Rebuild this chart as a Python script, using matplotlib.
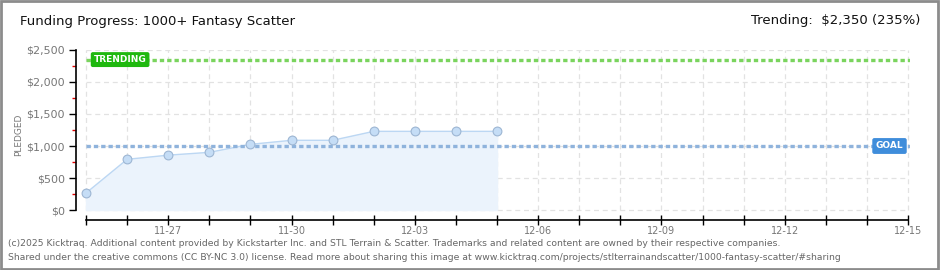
"""
Kicktraq-style funding progress chart: pledged per day vs goal and trend.
"""

import matplotlib
matplotlib.use("Agg")
import matplotlib.pyplot as plt
import pandas as pd
from matplotlib.patches import Rectangle

# ── Data ────────────────────────────────────────────────────
dates = ["11-25", "11-26", "11-27", "11-28", "11-29", "11-30",
         "12-01", "12-02", "12-03", "12-04", "12-05"]
pledged = [265, 792, 857, 901, 1026, 1089, 1089, 1229, 1229, 1229, 1229]
goal = 1000
trending = 2350
axis_days = pd.date_range("2025-11-25", "2025-12-15", freq="D").strftime("%m-%d").tolist()
y_ticks = [0, 500, 1000, 1500, 2000, 2500]

W, H = 940, 270
fig = plt.figure(figsize=(W / 100, H / 100), dpi=100)
fig.patch.set_facecolor("white")

# figure border
fig.add_artist(Rectangle((0.001, 0.002), 0.997, 0.996, transform=fig.transFigure,
                         fill=False, edgecolor="#8c8c8c", lw=2))

# axes: left spine at px 76, data starts px 86, ends px 910; y 0 at px 210, 2500 at px 50,
# x-axis line at px 220
px_per_day = (908 - 86) / 20
x0 = -(86 - 76) / px_per_day
x1 = 20 + (910 - 908) / px_per_day
px_per_dollar = (210 - 50) / 2500
y0 = -(220 - 210) / px_per_dollar
ax = fig.add_axes([76 / W, (H - 220) / H, (910 - 76) / W, (220 - 50) / H])
ax.set_xlim(x0, x1)
ax.set_ylim(y0, 2500)
ax.set_facecolor("white")

xs = list(range(len(dates)))
n_days = len(axis_days) - 1

# grid
ax.hlines(y_ticks, 0, n_days, colors="#e2e2e2", linestyles=(0, (4, 3)), lw=0.9, zorder=0)
ax.vlines(range(n_days + 1), 0, 2500, colors="#e2e2e2", linestyles=(0, (4, 3)), lw=0.9, zorder=0)

# series
ax.fill_between(xs, 0, pledged, color="#ebf3fc", zorder=1)
ax.plot(xs, pledged, color="#bcd7f3", lw=1, zorder=2)
ax.scatter(xs, pledged, s=40, color="#c5ddf6", edgecolors="#9db6d3", linewidths=0.8, zorder=4)

# goal and trending lines
ax.hlines(goal, 0, x1, colors="#8fb3dc", linestyles=(0, (1.3, 0.9)), lw=2.4, zorder=3)
ax.hlines(trending, 0, x1, colors="#7ad45e", linestyles=(0, (1.3, 0.9)), lw=2.4, zorder=3)

ax.text(0.83, trending, "TRENDING", color="white", fontsize=6.5, fontweight="bold",
        ha="center", va="center", zorder=6,
        bbox=dict(boxstyle="round,pad=0.25,rounding_size=0.15", fc="#1fb80f", ec="#1fb80f"))
ax.text(19.55, goal, "GOAL", color="white", fontsize=6.5, fontweight="bold",
        ha="center", va="center", zorder=6,
        bbox=dict(boxstyle="round,pad=0.3,rounding_size=0.15", fc="#3f8ddb", ec="#3f8ddb"))

# spines
for s in ["top", "right"]:
    ax.spines[s].set_visible(False)
ax.spines["left"].set_bounds(0, 2500)
ax.spines["bottom"].set_bounds(0, n_days)
ax.spines["left"].set_linewidth(1.2)
ax.spines["bottom"].set_linewidth(1.2)

# y ticks
ax.set_yticks(y_ticks)
ax.set_yticklabels([f"${v:,}" for v in y_ticks], color="#777777", fontsize=8)
ax.set_yticks([250, 750, 1250, 1750, 2250], minor=True)
ax.tick_params(axis="y", which="major", length=5, width=1, color="black", pad=3)
ax.tick_params(axis="y", which="minor", length=3, width=1, color="#e00000")
ax.set_ylabel("PLEDGED", color="#777777", fontsize=6.5, labelpad=2)

# x ticks
ax.set_xticks(range(n_days + 1))
ax.set_xticklabels([d if (i % 3 == 2) else "" for i, d in enumerate(axis_days)],
                   color="#777777", fontsize=7)
ax.tick_params(axis="x", direction="inout", length=7, width=1, pad=1)

# header
fig.text(20 / W, 1 - 22 / H, "Funding Progress: 1000+ Fantasy Scatter",
         fontsize=9.5, color="#111111", va="center", ha="left")
fig.text(920 / W, 1 - 21 / H, "Trending:  $2,350 (235%)",
         fontsize=9.5, color="#111111", va="center", ha="right")

# footer
fig.text(8 / W, 1 - 243 / H,
         "(c)2025 Kicktraq. Additional content provided by Kickstarter Inc. and STL Terrain & Scatter. "
         "Trademarks and related content are owned by their respective companies.",
         fontsize=6.7, color="#666666", va="center", ha="left")
fig.text(8 / W, 1 - 257 / H,
         "Shared under the creative commons (CC BY-NC 3.0) license. Read more about sharing this image at "
         "www.kicktraq.com/projects/stlterrainandscatter/1000-fantasy-scatter/#sharing",
         fontsize=6.7, color="#666666", va="center", ha="left")

fig.savefig("out.png", dpi=100)
plt.close(fig)
